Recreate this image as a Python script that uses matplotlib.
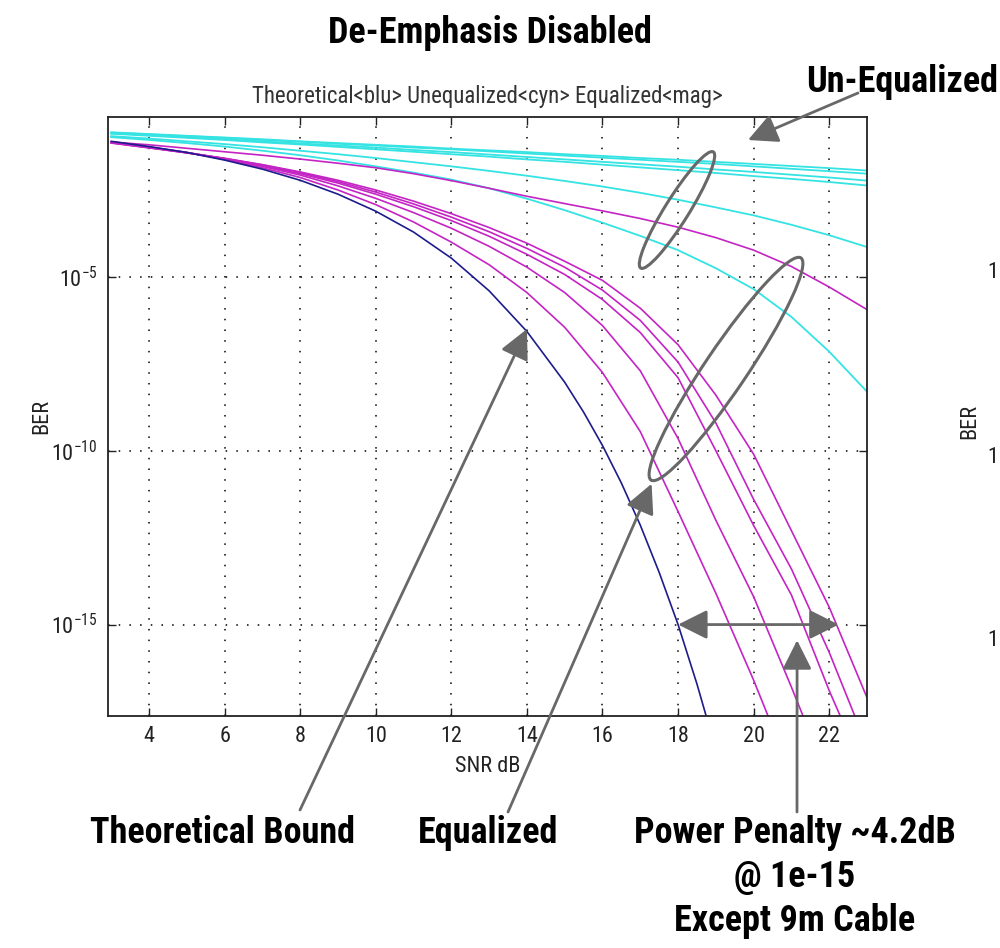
import numpy as np
import matplotlib
matplotlib.use('Agg')
import matplotlib.pyplot as plt
from matplotlib import font_manager, ticker
from matplotlib.patches import Ellipse, ArrowStyle

# pick a narrow sans face if one is around, plain sans otherwise
available = {f.name for f in font_manager.fontManager.ttflist}
def pick(*names):
    for n in names:
        if n in available:
            return n
    return 'DejaVu Sans'
narrow = pick('Liberation Sans Narrow', 'Roboto Condensed', 'Liberation Sans')
plt.rcParams['font.family'] = [narrow, 'DejaVu Sans']

# SNR grid [dB] shared by the simulated curves
snr = [3, 4, 5, 6, 7, 8, 9, 10, 11, 12, 13, 14, 15, 16, 17, 18, 19, 20, 21, 22, 23]

# theoretical bound, log10(BER)
snr_theory = [3, 4, 5, 6, 7, 8, 9, 10, 11, 12, 13, 14, 15, 15.5, 16, 16.5, 17, 17.5, 18, 18.5, 19]
ber_theory = [-1.10, -1.25, -1.42, -1.64, -1.90, -2.22, -2.62, -3.11, -3.71, -4.46, -5.40,
              -6.57, -8.03, -8.89, -9.85, -10.93, -12.14, -13.50, -15.0, -16.71, -18.6]

# un-equalized cables, log10(BER)
unequalized = [
    [-0.84, -0.89, -0.94, -0.99, -1.04, -1.10, -1.15, -1.20, -1.25, -1.31, -1.36,
     -1.41, -1.47, -1.52, -1.58, -1.63, -1.69, -1.75, -1.81, -1.87, -1.94],
    [-0.85, -0.90, -0.95, -1.00, -1.06, -1.11, -1.17, -1.22, -1.28, -1.33, -1.39,
     -1.45, -1.51, -1.57, -1.63, -1.69, -1.75, -1.82, -1.89, -1.96, -2.03],
    [-0.87, -0.92, -0.98, -1.04, -1.10, -1.16, -1.22, -1.28, -1.35, -1.41, -1.48,
     -1.55, -1.62, -1.69, -1.76, -1.83, -1.91, -1.98, -2.06, -2.14, -2.23],
    [-0.88, -0.94, -1.00, -1.06, -1.13, -1.19, -1.26, -1.33, -1.40, -1.47, -1.54,
     -1.62, -1.69, -1.77, -1.85, -1.93, -2.01, -2.10, -2.18, -2.27, -2.37],
    [-0.95, -1.02, -1.10, -1.18, -1.27, -1.37, -1.47, -1.58, -1.70, -1.82, -1.95,
     -2.09, -2.24, -2.40, -2.58, -2.78, -3.00, -3.23, -3.50, -3.80, -4.14],
    [-0.98, -1.06, -1.15, -1.25, -1.37, -1.50, -1.65, -1.82, -2.00, -2.20, -2.45,
     -2.75, -3.08, -3.44, -3.82, -4.23, -4.75, -5.35, -6.15, -7.15, -8.30],
]

# equalized cables, log10(BER)
equalized = [
    [-1.12, -1.26, -1.42, -1.62, -1.86, -2.14, -2.50, -2.92, -3.42, -4.00, -4.65,
     -5.45, -6.45, -7.75, -9.45, -11.75, -14.10, -16.60, -19.30],
    [-1.13, -1.27, -1.42, -1.60, -1.82, -2.07, -2.38, -2.74, -3.15, -3.60, -4.12,
     -4.72, -5.45, -6.40, -7.70, -9.65, -12.00, -14.20, -16.80, -19.50],
    [-1.14, -1.28, -1.43, -1.60, -1.80, -2.03, -2.30, -2.62, -2.98, -3.38, -3.83,
     -4.35, -4.93, -5.65, -6.60, -7.90, -10.00, -12.15, -14.15, -16.90, -19.40],
    [-1.14, -1.28, -1.43, -1.59, -1.78, -2.00, -2.26, -2.56, -2.90, -3.28, -3.70,
     -4.18, -4.72, -5.38, -6.25, -7.45, -9.20, -11.40, -13.40, -15.80, -18.50],
    [-1.15, -1.29, -1.43, -1.59, -1.77, -1.98, -2.22, -2.50, -2.82, -3.18, -3.58,
     -4.03, -4.55, -5.10, -5.90, -6.95, -8.40, -10.10, -12.30, -14.50, -17.10],
    [-1.12, -1.20, -1.30, -1.40, -1.50, -1.61, -1.73, -1.86, -2.03, -2.23, -2.45,
     -2.68, -2.89, -3.10, -3.32, -3.57, -3.87, -4.23, -4.70, -5.29, -5.94],
]

xticks = [4, 6, 8, 10, 12, 14, 16, 18, 20, 22]
yticks = [1e-15, 1e-10, 1e-5]

c_theory = '#1c1c8c'
c_uneq = '#35e3e3'
c_eq = '#c424c4'
c_note = '#686868'

fig = plt.figure(figsize=(10, 9.48), dpi=100)
ax = fig.add_axes([107.5 / 1000, 232 / 948, 759.5 / 1000, 599 / 948])

for curve in unequalized:
    ax.plot(snr[:len(curve)], 10.0 ** np.array(curve), color=c_uneq, lw=1.3)
for curve in equalized:
    ax.plot(snr[:len(curve)], 10.0 ** np.array(curve), color=c_eq, lw=1.2)
ax.plot(snr_theory, 10.0 ** np.array(ber_theory), color=c_theory, lw=1.2)

ax.set_yscale('log')
ax.set_xlim(2.9, 23)
ax.set_ylim(10 ** -17.63, 10 ** -0.40)
ax.set_xticks(xticks)
ax.set_yticks(yticks)
ax.yaxis.set_minor_locator(ticker.NullLocator())
ax.yaxis.set_major_formatter(ticker.FuncFormatter(
    lambda v, p: r'$\mathregular{10^{%d}}$' % round(np.log10(v))))
ax.tick_params(direction='in', length=6, width=1, top=True, right=True,
               labelsize=16, pad=7, colors='#222222')
ax.grid(True, color='k', linestyle=(0, (1, 6)), linewidth=1.1)
for s in ax.spines.values():
    s.set_linewidth(1.3)
    s.set_color('#222222')

ax.set_title('Theoretical<blu> Unequalized<cyn> Equalized<mag>',
             fontsize=16.5, color='#333333', pad=10)
ax.set_xlabel('SNR dB', fontsize=16, color='#222222')
ax.set_ylabel('BER', fontsize=16, color='#222222')
ax.xaxis.set_label_coords(0.5, -0.066)
ax.yaxis.set_label_coords(-0.073, 0.5)

# overlay in pixel units for the callouts
ov = fig.add_axes([0, 0, 1, 1], zorder=5)
ov.set_xlim(0, 1000)
ov.set_ylim(948, 0)
ov.axis('off')
ov.patch.set_alpha(0)

bold = dict(fontsize=26, fontweight='bold', color='black', ha='center', va='center')
ov.text(490, 33, 'De-Emphasis Disabled', **bold)
ov.text(902, 82, 'Un-Equalized', **bold)
ov.text(222, 833, 'Theoretical Bound', **bold)
ov.text(488, 833, 'Equalized', **bold)
ov.text(795, 833, 'Power Penalty ~4.2dB', **bold)
ov.text(795, 877, '@ 1e-15', **bold)
ov.text(795, 921, 'Except 9m Cable', **bold)

# neighbouring panel peeking in at the right edge
ov.text(970, 421, 'BER', fontsize=16, color='#222222', rotation=90, ha='center', va='center')
for yy in (273, 457, 640):
    ov.text(987, yy, '1', fontsize=16, color='#222222', ha='left', va='center')

head = ArrowStyle('-|>', head_length=0.9, head_width=0.45)
both = ArrowStyle('<|-|>', head_length=0.9, head_width=0.45)
arrow = dict(arrowstyle=head, color=c_note, lw=2.0, mutation_scale=20, shrinkA=0, shrinkB=0)
arrow2 = dict(arrow, arrowstyle=both)

ov.annotate('', xy=(748, 140), xytext=(858, 93), arrowprops=arrow)
ov.annotate('', xy=(14.0, 10 ** -6.5), xycoords=ax.transData,
            xytext=(300, 810), textcoords='data', arrowprops=arrow)
ov.annotate('', xy=(17.3, 10 ** -10.95), xycoords=ax.transData,
            xytext=(508, 812), textcoords='data', arrowprops=arrow)
ov.annotate('', xy=(21.15, 10 ** -15.45), xycoords=ax.transData,
            xytext=(797, 812), textcoords='data', arrowprops=arrow)
ov.annotate('', xy=(22.25, 1e-15), xycoords=ax.transData,
            xytext=(18.0, 1e-15), textcoords=ax.transData, arrowprops=arrow2)

ov.add_patch(Ellipse((677, 210), 137, 24, angle=-58, fill=False, ec=c_note, lw=2.2))
ov.add_patch(Ellipse((726, 369), 268, 42, angle=-56, fill=False, ec=c_note, lw=2.2))

fig.savefig('out.png', dpi=100, facecolor='white')
